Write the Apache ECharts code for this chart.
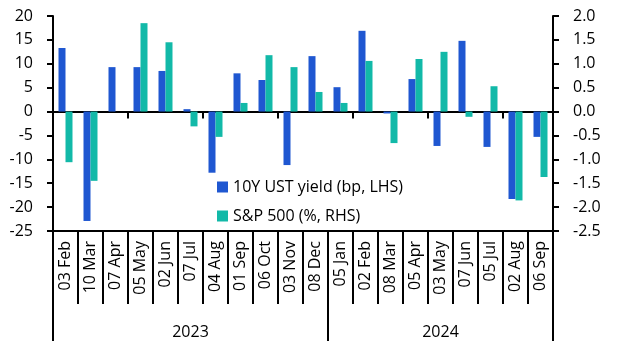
<!DOCTYPE html>
<html>
<head>
<meta charset="utf-8">
<script src="https://cdn.jsdelivr.net/npm/echarts@6/dist/echarts.min.js"></script>
<style>
  html, body { margin: 0; padding: 0; background: #fff; }
  #chart { width: 617px; height: 352px; }
</style>
</head>
<body>
<div id="chart"></div>
<script>
// payroll release dates
const categories = ["03 Feb", "10 Mar", "07 Apr", "05 May", "02 Jun", "07 Jul", "04 Aug", "01 Sep", "06 Oct", "03 Nov", "08 Dec",
  "05 Jan", "02 Feb", "08 Mar", "05 Apr", "03 May", "07 Jun", "05 Jul", "02 Aug", "06 Sep"];
const years = ["2023", "2024"];
const yearCounts = [11, 9];

// 10Y UST yield change, bp (LHS)
const ustYield = [13.3, -22.9, 9.3, 9.3, 8.5, 0.5, -12.8, 8.0, 6.6, -11.2, 11.6,
  5.1, 16.9, -0.4, 6.8, -7.2, 14.8, -7.4, -18.3, -5.3];
// S&P 500 change, % (RHS)
const spx = [-1.06, -1.45, 0, 1.85, 1.45, -0.31, -0.53, 0.18, 1.18, 0.93, 0.41,
  0.18, 1.06, -0.66, 1.1, 1.25, -0.11, 0.53, -1.86, -1.37];

const leftTicks = { min: -25, max: 20, step: 5 };
const rightTicks = { min: -2.5, max: 2.0, step: 0.5 };

// year label per category, used by the bottom level axis
let yearData = [];
let yearStarts = [];
let yearMids = [];
let start = 0;
yearCounts.forEach(function (n, i) {
  yearStarts.push(start);
  yearMids.push(start + Math.floor(n / 2));
  for (let k = 0; k < n; k++) yearData.push(years[i]);
  start += n;
});

const font = "Open Sans";
const black = "#000";

let myChart = echarts.init(document.getElementById("chart"));
myChart.setOption({
  animation: false,
  grid: { left: 53, right: 64, top: 16, bottom: 121 },
  legend: {
    orient: "vertical",
    left: 212,
    top: 174,
    icon: "rect",
    itemWidth: 11,
    itemHeight: 11,
    itemGap: 13,
    textStyle: { fontFamily: font, fontSize: 16, color: black },
    data: ["10Y UST yield (bp, LHS)", "S&P 500 (%, RHS)"]
  },
  xAxis: [
    {
      // zero line with small ticks
      type: "category",
      data: categories,
      position: "bottom",
      axisLine: { onZero: true, lineStyle: { color: black, width: 2 } },
      axisTick: { show: true, length: 7, lineStyle: { color: black, width: 2 } },
      axisLabel: { show: false }
    },
    {
      type: "category",
      data: categories,
      position: "bottom",
      axisLine: { onZero: false, lineStyle: { color: black, width: 2 } },
      axisTick: { show: true, length: 73, interval: 0, lineStyle: { color: black, width: 2 } },
      axisLabel: {
        interval: 0,
        rotate: 90,
        margin: 10,
        fontFamily: font,
        fontSize: 16,
        color: black
      }
    },
    {
      type: "category",
      data: yearData,
      position: "bottom",
      axisLine: { onZero: false, lineStyle: { color: black, width: 2 } },
      axisTick: {
        show: true,
        length: 110,
        interval: function (idx) { return yearStarts.indexOf(idx) >= 0; },
        lineStyle: { color: black, width: 2 }
      },
      axisLabel: {
        interval: function (idx) { return yearMids.indexOf(idx) >= 0; },
        margin: 93,
        fontFamily: font,
        fontSize: 16,
        color: black
      }
    }
  ],
  yAxis: [
    {
      type: "value",
      position: "left",
      min: leftTicks.min,
      max: leftTicks.max,
      interval: leftTicks.step,
      splitLine: { show: false },
      axisLine: { show: true, onZero: false, lineStyle: { color: black, width: 2 } },
      axisTick: { show: true, length: 6, lineStyle: { color: black, width: 2 } },
      axisLabel: { margin: 20, fontFamily: font, fontSize: 16, color: black }
    },
    {
      type: "value",
      position: "right",
      min: rightTicks.min,
      max: rightTicks.max,
      interval: rightTicks.step,
      splitLine: { show: false },
      axisLine: { show: true, onZero: false, lineStyle: { color: black, width: 2 } },
      axisTick: { show: true, length: 6, lineStyle: { color: black, width: 2 } },
      axisLabel: {
        margin: 20,
        fontFamily: font,
        fontSize: 16,
        color: black,
        formatter: function (v) { return v.toFixed(1); }
      }
    }
  ],
  series: [
    {
      name: "10Y UST yield (bp, LHS)",
      type: "bar",
      xAxisIndex: 0,
      yAxisIndex: 0,
      data: ustYield,
      barWidth: 7,
      barGap: "0%",
      itemStyle: { color: "#1f57d1" }
    },
    {
      name: "S&P 500 (%, RHS)",
      type: "bar",
      xAxisIndex: 0,
      yAxisIndex: 1,
      data: spx,
      barWidth: 7,
      barGap: "0%",
      itemStyle: { color: "#12b9a8" }
    }
  ]
});
</script>
</body>
</html>
